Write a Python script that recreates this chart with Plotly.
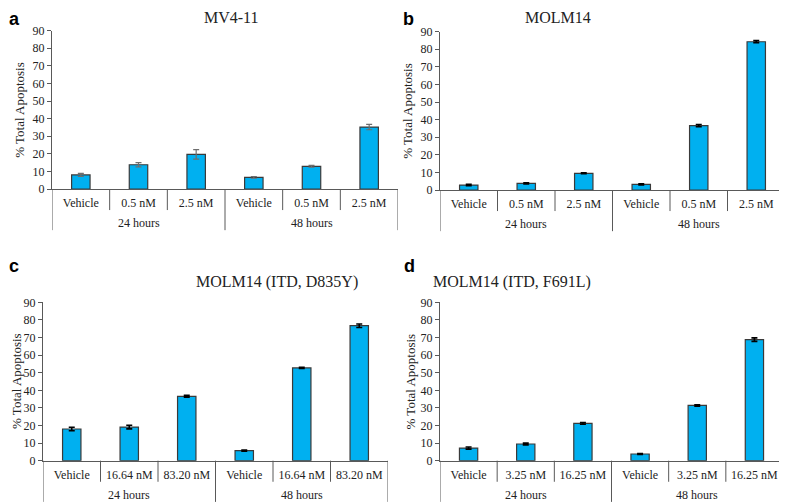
import plotly.graph_objects as go

# ---------------- data ----------------
groups = ["24 hours", "48 hours"]

titles = ["MV4-11", "MOLM14", "MOLM14 (ITD, D835Y)", "MOLM14 (ITD, F691L)"]
letters = ["a", "b", "c", "d"]

labels_a = ["Vehicle", "0.5 nM", "2.5 nM", "Vehicle", "0.5 nM", "2.5 nM"]
labels_b = ["Vehicle", "0.5 nM", "2.5 nM", "Vehicle", "0.5 nM", "2.5 nM"]
labels_c = ["Vehicle", "16.64 nM", "83.20 nM", "Vehicle", "16.64 nM", "83.20 nM"]
labels_d = ["Vehicle", "3.25 nM", "16.25 nM", "Vehicle", "3.25 nM", "16.25 nM"]

values_a = [8.0, 13.8, 19.7, 6.6, 12.9, 35.2]
values_b = [2.8, 3.8, 9.5, 3.2, 36.6, 84.3]
values_c = [18.0, 19.1, 36.6, 5.7, 52.7, 76.7]
values_d = [7.2, 9.5, 21.2, 3.8, 31.4, 68.8]

errors_a = [0.9, 1.2, 2.7, 0.5, 0.5, 1.5]
errors_b = [0.4, 0.3, 0.3, 0.3, 0.6, 0.6]
errors_c = [1.0, 1.0, 0.5, 0.3, 0.3, 1.0]
errors_d = [0.6, 0.5, 0.5, 0.2, 0.4, 1.0]

yticks = [0, 10, 20, 30, 40, 50, 60, 70, 80, 90]
ytitle = "% Total Apoptosis"

# ---------------- layout geometry ----------------
# The page places the figure 8 px from the top-left corner of the window,
# so the figure is 8 px smaller and positions (window pixels) are shifted by 8.
OFF = 8
W, H = 787 - OFF, 503 - OFF
# title_xy / letter_xy: y=None -> anchored to the very top of the figure
# ytitle_x: None -> anchored to the very left of the figure
panels = [
    dict(labels=labels_a, values=values_a, errors=errors_a, x=(52, 398), y=(30.7, 189), errc="#6e6e6e", errw=1.2,
         title_xy=(203, None), letter_xy=(7, None), ytitle_x=20),
    dict(labels=labels_b, values=values_b, errors=errors_b, x=(440, 785), y=(31.7, 190), errc="#000000", errw=1.6,
         title_xy=(592, None), letter_xy=(407, None), ytitle_x=408),
    dict(labels=labels_c, values=values_c, errors=errors_c, x=(43, 388), y=(302.3, 460.7), errc="#000000", errw=1.6,
         title_xy=(195, 282), letter_xy=(7, 266), ytitle_x=None),
    dict(labels=labels_d, values=values_d, errors=errors_d, x=(440, 783), y=(302.3, 460.7), errc="#000000", errw=1.6,
         title_xy=(592, 282), letter_xy=(408, 266), ytitle_x=410),
]


def px(v):
    return (v - OFF) / W


def py(v):
    return 1 - (v - OFF) / H


serif = "Liberation Serif, Times New Roman, serif"
axis_col = "#595959"

fig = go.Figure()
layout = dict(width=W, height=H, margin=dict(l=0, r=0, t=0, b=0, pad=0, autoexpand=False),
              template="none", autosize=False,
              paper_bgcolor="white", plot_bgcolor="white", showlegend=False,
              font=dict(family=serif, size=12, color="#222"))
annotations = []
shapes = []

for i, p in enumerate(panels):
    n = i + 1
    xa = "xaxis" if n == 1 else f"xaxis{n}"
    ya = "yaxis" if n == 1 else f"yaxis{n}"
    xr = "x" if n == 1 else f"x{n}"
    yr = "y" if n == 1 else f"y{n}"
    xs = list(range(len(p["values"])))
    fig.add_trace(go.Bar(
        x=xs, y=p["values"], xaxis=xr, yaxis=yr, width=0.32,
        marker=dict(color="#00B0F0", line=dict(color="#3a3a3a", width=1.2)),
        error_y=dict(type="data", array=p["errors"], visible=True,
                     color=p["errc"], thickness=p["errw"], width=3),
    ))
    layout[xa] = dict(domain=[px(p["x"][0]), min(1.0, px(p["x"][1]))], anchor=yr, automargin=False,
                      range=[-0.5, len(xs) - 0.5], tickvals=xs, ticktext=p["labels"],
                      showline=True, linecolor=axis_col, linewidth=1, ticks="",
                      ticklabelstandoff=3,
                      tickfont=dict(family=serif, size=12, color="#222"),
                      showgrid=False, zeroline=False, fixedrange=True)
    layout[ya] = dict(domain=[py(p["y"][1]), py(p["y"][0])], anchor=xr, automargin=False,
                      range=[0, 90], tickvals=yticks, showline=True, linecolor=axis_col,
                      linewidth=1, ticks="outside", ticklen=4, tickcolor=axis_col,
                      tickfont=dict(family=serif, size=12, color="#222"),
                      showgrid=False, zeroline=False, fixedrange=True)
    # separators of the hierarchical category axis
    for k in range(len(xs) + 1):
        outer = (k % 3 == 0)
        shapes.append(dict(type="line", xref=xr, yref=f"{yr} domain",
                           x0=k - 0.5, x1=k - 0.5, y0=0, y1=-0.26 if outer else -0.133,
                           line=dict(color=axis_col, width=1)))
    # group labels
    for g, name in enumerate(groups):
        annotations.append(dict(text=name, xref=xr, yref=f"{yr} domain",
                                x=g * 3 + 1, y=-0.215, showarrow=False,
                                yanchor="middle", font=dict(family=serif, size=12, color="#222")))
    # title
    ty = p["title_xy"][1]
    annotations.append(dict(text=titles[i], xref="paper", yref="paper",
                            x=px(p["title_xy"][0]), y=1.0 if ty is None else py(ty),
                            showarrow=False, yanchor="top" if ty is None else "middle", borderpad=0,
                            font=dict(family=serif, size=16, color="#222")))
    # panel letter
    ly = p["letter_xy"][1]
    annotations.append(dict(text=f"<b>{letters[i]}</b>", xref="paper", yref="paper",
                            x=max(0.0, px(p["letter_xy"][0] - 5)), y=1.0 if ly is None else py(ly),
                            showarrow=False, xanchor="left", yanchor="top" if ly is None else "middle",
                            borderpad=0,
                            font=dict(family="Liberation Sans, Arial, sans-serif", size=18, color="#000")))
    # y-axis title
    tx = p["ytitle_x"]
    annotations.append(dict(text=ytitle, xref="paper", yref="paper",
                            x=0.0 if tx is None else px(tx), y=py((p["y"][0] + p["y"][1]) / 2),
                            showarrow=False, textangle=-90, borderpad=0,
                            xanchor="left" if tx is None else "center", yanchor="middle",
                            font=dict(family=serif, size=13, color="#222")))

layout["annotations"] = annotations
layout["shapes"] = shapes
fig.update_layout(**layout)
fig.write_html("out.html")
